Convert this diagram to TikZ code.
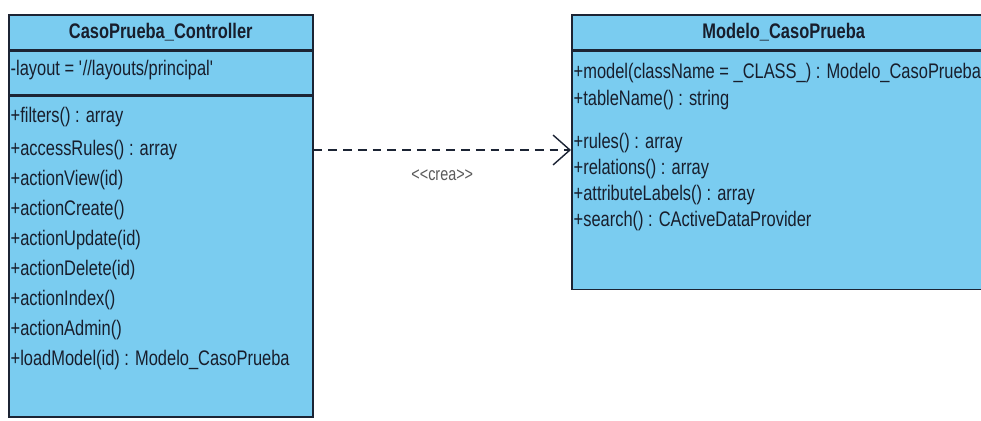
\documentclass[tikz,border=0pt]{standalone}
\usepackage{fontspec}
\setmainfont{Liberation Sans}[FakeStretch=0.78]
\usepackage{tikz}
\usetikzlibrary{arrows.meta, positioning}
\definecolor{classblue}{RGB}{122,204,240}
\definecolor{classline}{RGB}{28,36,52}
\definecolor{classtext}{RGB}{24,30,44}
\definecolor{labelgray}{RGB}{90,90,90}

\begin{document}
\begin{tikzpicture}[x=0.02cm, y=-0.02cm, thick]
    \fill[white] (0,0) rectangle (981,420);
    \clip (0,0) rectangle (981,420);

    % Define styles for compartments, members and the dependency
    \tikzstyle{compartment} = [rectangle, draw=classline, line width=0.9pt, fill=classblue, inner sep=0, anchor=north west]
    \tikzstyle{classname} = [font=\fontsize{12}{14}\selectfont\bfseries, text=classtext]
    \tikzstyle{member} = [anchor=west, inner sep=0, font=\fontsize{12}{14}\selectfont, text=classtext]
    \tikzstyle{dependency} = [line width=0.8pt, draw=classline, dash pattern=on 5pt off 3.4pt, -{Straight Barb[length=9.6pt, width=17pt]}]
    \tikzstyle{stereotype} = [font=\fontsize{10.5}{12}\selectfont, text=labelgray]

    % CasoPrueba_Controller
    \node (ctrlhead) [compartment, minimum width=6.08cm, minimum height=0.70cm] at (8, 14) {};
    \node (ctrlattr) [compartment, minimum width=6.08cm, minimum height=0.86cm] at (ctrlhead.south west) {};
    \node (ctrlops) [compartment, minimum width=6.08cm, minimum height=6.42cm] at (ctrlattr.south west) {};
    \node (ctrlname) [classname] at (ctrlhead.center) {CasoPrueba\_Controller};

    \node (ctrlattr1) [member] at (10, 70) {-layout = \textquotesingle//layouts/principal\textquotesingle};
    \node (ctrlop1) [member] at (10, 117) {+filters() : array};
    \node (ctrlop2) [member] at (10, 150) {+accessRules() : array};
    \node (ctrlop3) [member] at (10, 180) {+actionView(id)};
    \node (ctrlop4) [member] at (10, 210) {+actionCreate()};
    \node (ctrlop5) [member] at (10, 240) {+actionUpdate(id)};
    \node (ctrlop6) [member] at (10, 270) {+actionDelete(id)};
    \node (ctrlop7) [member] at (10, 300) {+actionIndex()};
    \node (ctrlop8) [member] at (10, 330) {+actionAdmin()};
    \node (ctrlop9) [member] at (10, 360) {+loadModel(id) : Modelo\_CasoPrueba};

    % Modelo_CasoPrueba
    \node (modelhead) [compartment, minimum width=8.48cm, minimum height=0.70cm] at (571, 14) {};
    \node (modelops) [compartment, minimum width=8.48cm, minimum height=4.76cm] at (modelhead.south west) {};
    \node (modelname) [classname] at (modelhead.center) {Modelo\_CasoPrueba};

    \node (modelop1) [member] at (573, 73) {+model(className = \_CLASS\_) : Modelo\_CasoPrueba};
    \node (modelop2) [member] at (573, 100) {+tableName() : string};
    \node (modelop3) [member] at (573, 143) {+rules() : array};
    \node (modelop4) [member] at (573, 169) {+relations() : array};
    \node (modelop5) [member] at (573, 195) {+attributeLabels() : array};
    \node (modelop6) [member] at (573, 221) {+search() : CActiveDataProvider};

    % Dependency
    \draw [dependency] (ctrlop2 -| ctrlops.east) -- (ctrlop2 -| modelops.west)
        node [stereotype, midway, below=0.26cm] (crealabel) {<{}<crea>{}>};
\end{tikzpicture}
\end{document}
